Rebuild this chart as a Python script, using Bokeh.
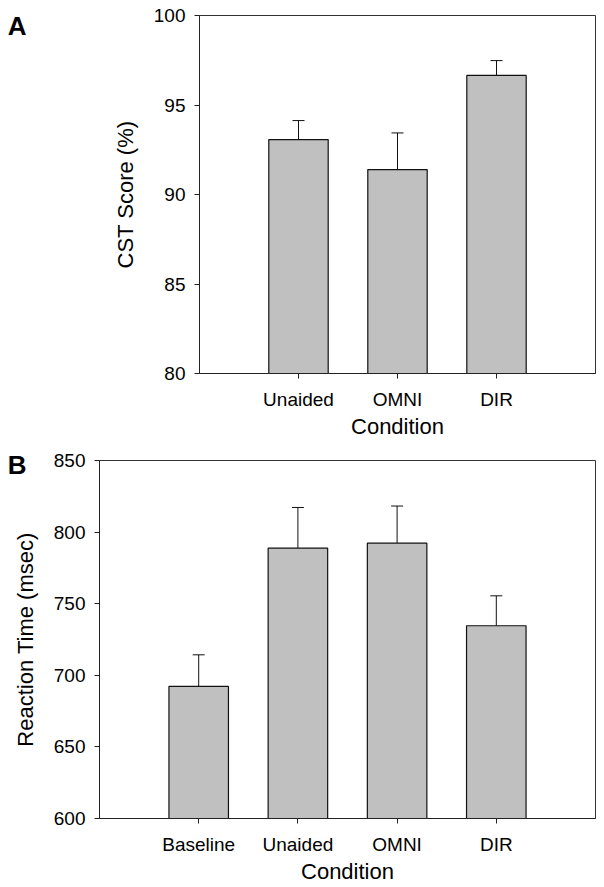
from bokeh.plotting import figure
from bokeh.models import (FixedTicker, Whisker, ColumnDataSource, TeeHead,
                          Range1d, LinearAxis)
from bokeh.layouts import column
from bokeh.embed import file_html
from bokeh.resources import INLINE

# ---- data ----
a_conditions = ["Unaided", "OMNI", "DIR"]
a_means = [93.07, 91.39, 96.65]
a_errors = [1.06, 2.05, 0.83]
a_ticks = [80, 85, 90, 95, 100]

b_conditions = ["Baseline", "Unaided", "OMNI", "DIR"]
b_means = [692.2, 788.8, 792.3, 734.6]
b_errors = [22.1, 28.4, 25.9, 20.9]
b_ticks = [600, 650, 700, 750, 800, 850]

FONT = "Liberation Sans"


def panel(conds, means, errs, ticks, ylabel, letter, width, height,
          b_left, b_right, b_top, b_bottom, letter_dy, letter_standoff):
    n = len(conds)
    xs = list(range(1, n + 1))
    ymin, ymax = ticks[0], ticks[-1]
    src = ColumnDataSource(dict(x=xs, mean=means,
                                upper=[m + e for m, e in zip(means, errs)]))
    p = figure(width=width, height=height, output_backend="svg",
               toolbar_location=None,
               x_range=Range1d(0, n + 1), y_range=Range1d(ymin, ymax),
               min_border_left=b_left, min_border_right=b_right,
               min_border_top=b_top, min_border_bottom=b_bottom)
    p.frame_align = False
    p.background_fill_color = "white"
    p.border_fill_color = "white"
    p.outline_line_color = "#333333"
    p.outline_line_width = 1
    p.xgrid.visible = False
    p.ygrid.visible = False

    p.vbar(x="x", top="mean", bottom=ymin, width=0.6, source=src,
           fill_color="#c0c0c0", line_color="#111111", line_width=1.2)
    w = Whisker(base="x", upper="upper", lower="mean", source=src,
                line_color="#111111", line_width=1,
                upper_head=TeeHead(size=12, line_color="#111111", line_width=1),
                lower_head=None)
    p.add_layout(w)

    for ax in (p.xaxis[0], p.yaxis[0]):
        ax.axis_line_color = "#222222"
        ax.major_tick_line_color = "#222222"
        ax.major_tick_in = 0
        ax.major_tick_out = 5
        ax.minor_tick_line_color = None
        ax.major_label_text_font = FONT
        ax.major_label_text_font_size = "19px"
        ax.major_label_text_color = "black"
        ax.axis_label_text_font = FONT
        ax.axis_label_text_font_size = "22px"
        ax.axis_label_text_font_style = "normal"
        ax.axis_label_text_color = "black"

    p.yaxis.ticker = FixedTicker(ticks=ticks)
    p.yaxis.major_label_standoff = 9
    p.yaxis.axis_label = ylabel
    p.yaxis.axis_label_standoff = 13

    p.xaxis.ticker = FixedTicker(ticks=xs)
    p.xaxis.major_label_overrides = {x: c for x, c in zip(xs, conds)}
    p.xaxis.major_label_standoff = 10
    p.xaxis.axis_label = "Condition"
    p.xaxis.axis_label_standoff = 1

    # panel letter, drawn as the only label of an outer, line-less axis
    frame_h = height - b_top - b_bottom
    p.extra_y_ranges = {"letter": Range1d(0, frame_h)}
    la = LinearAxis(y_range_name="letter",
                    ticker=FixedTicker(ticks=[frame_h - letter_dy]),
                    major_label_overrides={frame_h - letter_dy: letter},
                    axis_line_color=None, major_tick_line_color=None,
                    minor_tick_line_color=None,
                    major_tick_in=0, major_tick_out=0,
                    major_label_standoff=letter_standoff,
                    major_label_text_font=FONT,
                    major_label_text_font_size="26px",
                    major_label_text_font_style="bold",
                    major_label_text_color="black")
    p.add_layout(la, "left")
    return p


pa = panel(a_conditions, a_means, a_errors, a_ticks, "CST Score (%)", "A",
           604, 445, 199, 9, 15, 72, 10, 83)
pb = panel(b_conditions, b_means, b_errors, b_ticks, "Reaction Time (msec)", "B",
           604, 442, 99, 9, 15, 69, 4, -17)

layout = column(pa, pb, spacing=0)
open("out.html", "w").write(file_html(layout, INLINE))
